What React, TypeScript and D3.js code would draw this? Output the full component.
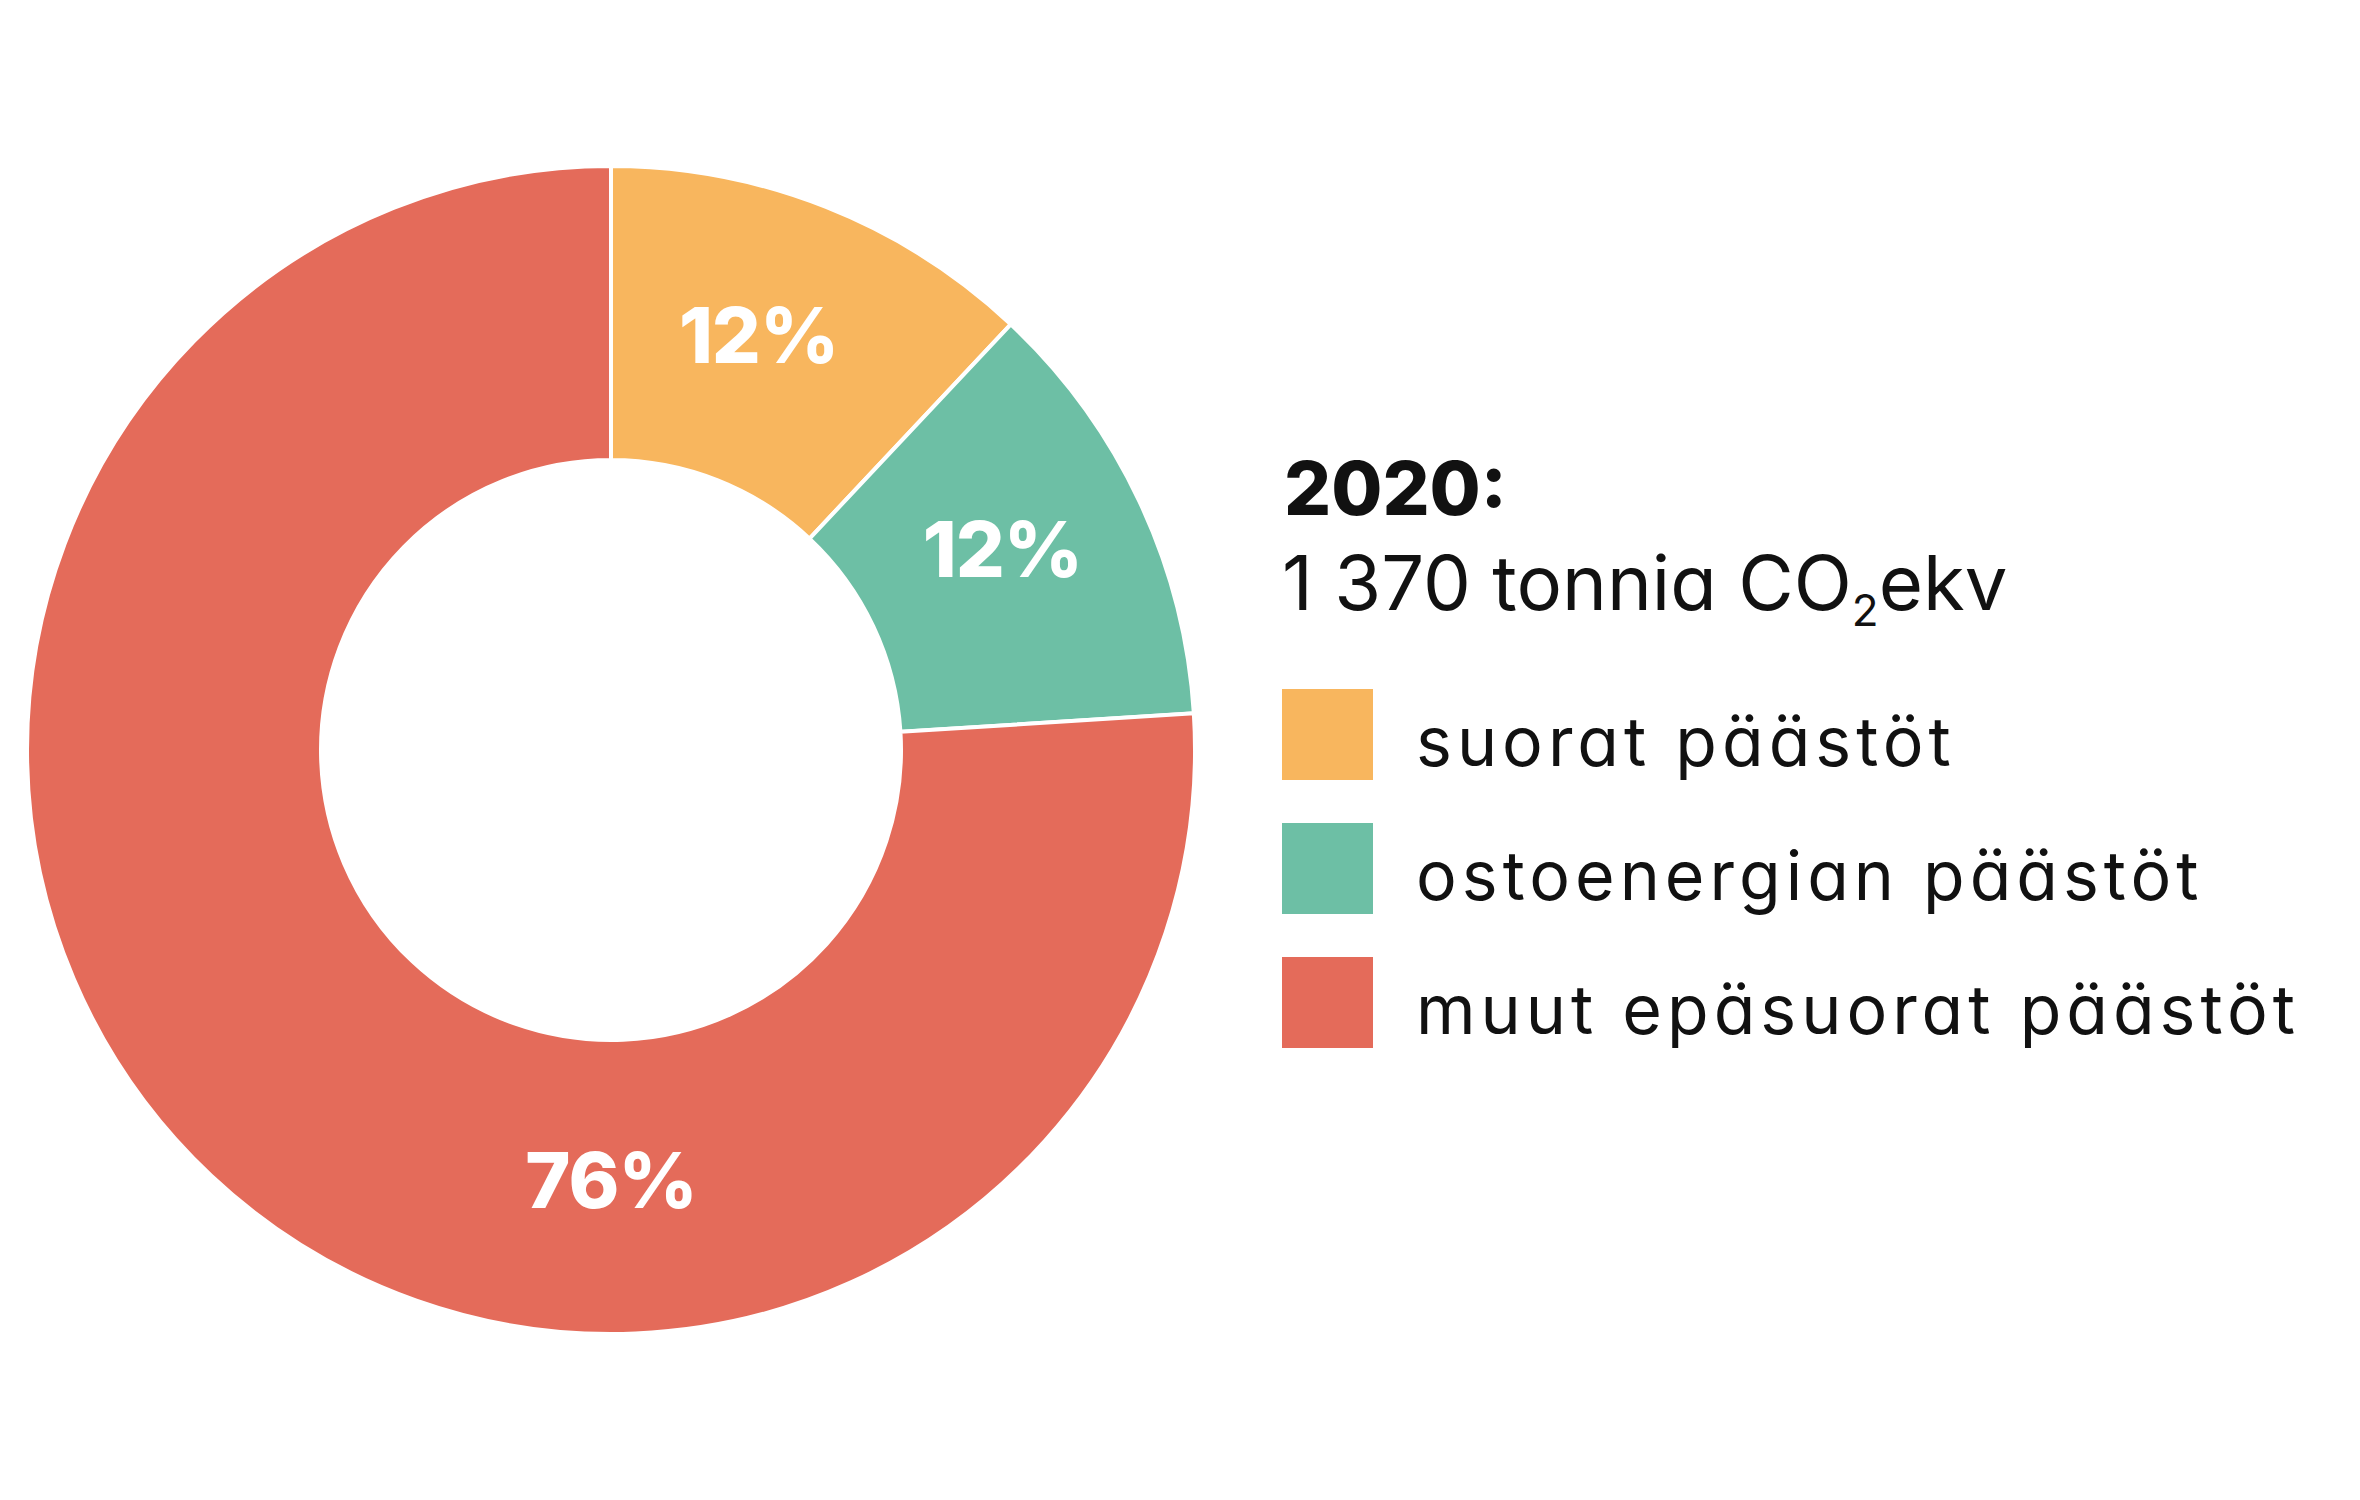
import * as React from "react";
import * as d3 from "d3";

// emission shares 2020 (%)
const categories = ["suorat päästöt", "ostoenergian päästöt", "muut epäsuorat päästöt"];
const shares = [12, 12, 76];
const colors = ["#F8B65E", "#6DBFA5", "#E46B5A"];
const year = "2020:";
const totalText = "1 370 tonnia CO";

const W = 2360, H = 1500;
const cx = 611, cy = 750;
const rOuter = 584, rInner = 290;
const font = "Inter, 'Noto Sans', sans-serif";

export default function App() {
  const pie = d3.pie<number>().sort(null).value((d) => d);
  const arcs = pie(shares);
  const arc = d3.arc<d3.PieArcDatum<number>>().innerRadius(rInner).outerRadius(rOuter);

  // label placement: small slices near their centre, the big one at the bottom
  const labelPos = (a: d3.PieArcDatum<number>, i: number) => {
    const mid = (a.startAngle + a.endAngle) / 2;
    const ang = i === 2 ? Math.PI : mid - 0.035;
    const r = i === 2 ? 430 : 440;
    return [Math.sin(ang) * r, -Math.cos(ang) * r];
  };

  const legendX = 1282, legendY0 = 689, legendStep = 134, box = 91;

  return (
    <svg width={W} height={H} style={{ position: "absolute", left: 0, top: 0, background: "#fff" }}>
      <g transform={`translate(${cx},${cy})`}>
        {arcs.map((a, i) => (
          <path key={i} d={arc(a) || ""} fill={colors[i]} stroke="#fff" strokeWidth={4} />
        ))}
        {arcs.map((a, i) => {
          const [x, y] = labelPos(a, i);
          return (
            <text key={"l" + i} x={x} y={y} dy="0.36em" textAnchor="middle" fill="#fff"
              fontFamily={font} fontWeight={800} fontSize={77} letterSpacing={-1}>
              {shares[i]}%
            </text>
          );
        })}
      </g>

      <g fontFamily={font} fill="#111" style={{ fontFeatureSettings: "'cv11' 1" }}>
        <text x={1284} y={515} fontWeight={800} fontSize={74}>{year}</text>
        <text x={1282} y={610} fontSize={76}>
          {totalText}
          <tspan fontSize={44} dy={16}>2</tspan>
          <tspan dy={-16}>ekv</tspan>
        </text>
        {categories.map((c, i) => (
          <g key={c} transform={`translate(${legendX},${legendY0 + i * legendStep})`}>
            <rect width={box} height={box} fill={colors[i]} />
            <text x={134} y={box / 2 + 7} dy="0.36em" fontSize={68} letterSpacing={5}>{c}</text>
          </g>
        ))}
      </g>
    </svg>
  );
}
